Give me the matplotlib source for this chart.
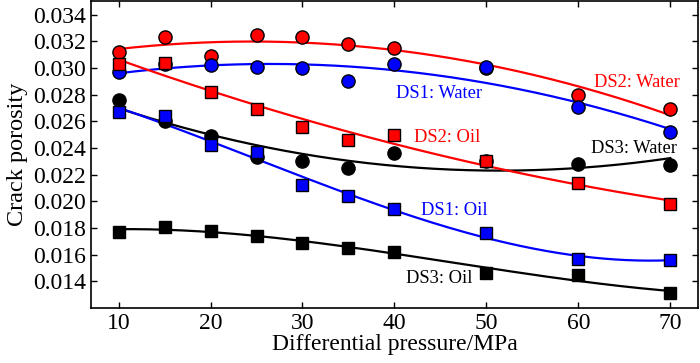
import numpy as np
import matplotlib
matplotlib.use('Agg')
import matplotlib.pyplot as plt

plt.rcParams['font.family'] = ['Liberation Serif', 'DejaVu Serif']

# differential pressure, MPa
pressure = [10, 15, 20, 25, 30, 35, 40, 50, 60, 70]

# crack porosity
ds1_water = [0.0297, 0.0303, 0.0302, 0.0301, 0.0300, 0.0290, 0.0303, 0.0301, 0.0271, 0.0252]
ds2_water = [0.0312, 0.0323, 0.0309, 0.0325, 0.0323, 0.0318, 0.0315, 0.0300, 0.0280, 0.0269]
ds3_water = [0.0276, 0.0260, 0.0249, 0.0233, 0.0230, 0.0225, 0.0236, 0.0230, 0.0228, 0.0227]
ds1_oil = [0.0267, 0.0264, 0.0242, 0.0237, 0.0212, 0.0204, 0.0194, 0.0176, 0.0157, 0.0156]
ds2_oil = [0.0303, 0.0304, 0.0282, 0.0269, 0.0256, 0.0246, 0.0250, 0.0230, 0.0214, 0.0198]
ds3_oil = [0.0177, 0.0181, 0.0178, 0.0174, 0.0169, 0.0165, 0.0162, 0.0146, 0.0145, 0.0131]

# name, values, colour, marker, fit degree, label position
series = [
    ('DS2: Water', ds2_water, 'red', 'o', 2, (66.4, 0.02891)),
    ('DS1: Water', ds1_water, 'blue', 'o', 2, (44.8, 0.02808)),
    ('DS3: Water', ds3_water, 'black', 'o', 2, (66.1, 0.02396)),
    ('DS2: Oil', ds2_oil, 'red', 's', 2, (45.7, 0.02479)),
    ('DS1: Oil', ds1_oil, 'blue', 's', 3, (46.5, 0.01932)),
    ('DS3: Oil', ds3_oil, 'black', 's', 3, (44.9, 0.01422)),
]

fig = plt.figure(figsize=(7.0, 3.63), dpi=100)
ax = fig.add_axes([0.13, 0.152, 0.867, 0.844])

x = np.array(pressure, dtype=float)
xx = np.linspace(10, 70, 200)
for i, (name, vals, col, mk, deg, pos) in enumerate(series):
    coef = np.polyfit(x, vals, deg)
    ax.plot(xx, np.polyval(coef, xx), color=col, lw=1.6, zorder=2)
    ms = 9.5 if mk == 'o' else 8.5
    ax.plot(x, vals, ls='none', marker=mk, ms=ms, mfc=col, mec='black', mew=1.0, zorder=3 + i)
    ax.text(pos[0], pos[1], name, color=col, fontsize=13.3, ha='center', va='center', zorder=10)

ax.set_xlim(7, 73)
ax.set_ylim(0.012, 0.035)
ax.set_xticks([10, 20, 30, 40, 50, 60, 70])
ax.set_yticks(np.arange(0.014, 0.0341, 0.002))
ax.yaxis.set_major_formatter(matplotlib.ticker.FormatStrFormatter('%.3f'))
ax.tick_params(direction='in', top=True, right=True, length=4, width=1, labelsize=17)
for sp in ax.spines.values():
    sp.set_linewidth(1.2)
ax.set_xlabel('Differential pressure/MPa', fontsize=17, labelpad=0)
ax.set_ylabel('Crack porosity', fontsize=17.5, labelpad=4)

fig.savefig('out.png', dpi=100)
